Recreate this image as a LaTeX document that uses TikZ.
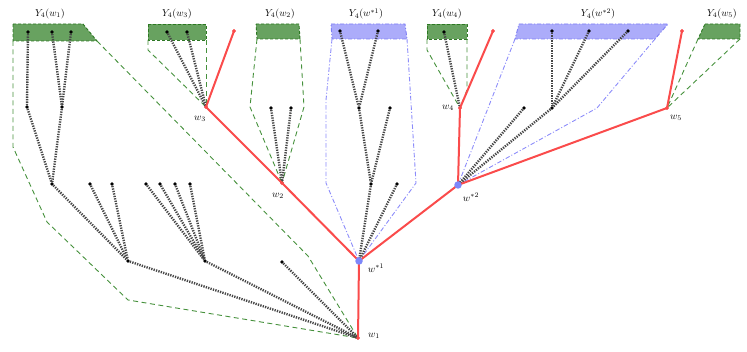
\documentclass[tikz,border=0pt]{standalone}
\definecolor{gfill}{RGB}{104,162,96}
\definecolor{gline}{RGB}{45,120,35}
\definecolor{ghullc}{RGB}{70,145,60}
\definecolor{bfill}{RGB}{172,172,250}
\definecolor{bline}{RGB}{125,125,245}
\definecolor{bhullc}{RGB}{140,140,250}
\definecolor{redc}{RGB}{250,75,75}
\definecolor{bdotc}{RGB}{125,135,250}
\tikzset{
 dot/.style={circle,fill=black,inner sep=0pt,minimum size=3.6pt},
 rdot/.style={circle,fill=redc,inner sep=0pt,minimum size=3.6pt},
 bdot/.style={circle,fill=bdotc,inner sep=0pt,minimum size=7.5pt},
 treeline/.style={line width=2.4pt,black!72,dash pattern=on 1.3pt off 1.2pt},
 redline/.style={line width=2pt,redc},
 ghull/.style={ghullc,line width=0.9pt,dash pattern=on 5pt off 3.5pt},
 bhull/.style={bhullc,line width=0.9pt,dash pattern=on 4.5pt off 2pt on 1pt off 2pt},
 gbox/.style={fill=gfill,draw=gline,line width=0.9pt,dash pattern=on 3pt off 2pt},
 bbox/.style={fill=bfill,draw=bline,line width=0.9pt,dash pattern=on 4pt off 2pt on 1pt off 2pt},
 lab/.style={inner sep=1pt,font=\normalsize},
}
\begin{document}
\begin{tikzpicture}[x=1pt,y=-1pt]
\useasboundingbox (0,0) rectangle (747,352);
% main nodes
\node[rdot] (w1) at (358,338) {};
\node[rdot] (w2) at (282,183) {};
\node[rdot] (w3) at (206,107) {};
\node[rdot] (w4) at (460,108) {};
\node[rdot] (w5) at (667,108) {};
\node[rdot] (e3) at (234,31) {};
\node[rdot] (e4) at (493,31) {};
\node[rdot] (e5) at (682,31) {};
\coordinate (ws1) at (359,261);
\coordinate (ws2) at (458,185);
% boxes
\draw[gbox] (13,24) -- (83,24) -- (97,41) -- (13,41) -- cycle;
\draw[gbox] (148,24) -- (206,24) -- (206,40) -- (148,40) -- cycle;
\draw[gbox] (256,24) -- (299,24) -- (300,39) -- (257,39) -- cycle;
\draw[bbox] (331,24) -- (405,24) -- (407,39) -- (332,39) -- cycle;
\draw[gbox] (427,24) -- (467,24) -- (467,39) -- (427,39) -- cycle;
\draw[bbox] (519,24) -- (668,24) -- (655,39) -- (515,39) -- cycle;
\draw[gbox] (705,24) -- (740,24) -- (740,39) -- (698,39) -- cycle;
% box labels
\node[lab] (L1) at (50,14) {$Y_4(w_1)$};
\node[lab] (L3) at (177,14) {$Y_4(w_3)$};
\node[lab] (L2) at (280,14) {$Y_4(w_2)$};
\node[lab] (Ls1) at (366,14) {$Y_4(w^{*1})$};
\node[lab] (L4) at (447,14) {$Y_4(w_4)$};
\node[lab] (Ls2) at (598,14) {$Y_4(w^{*2})$};
\node[lab] (L5) at (722,14) {$Y_4(w_5)$};
% hulls
\draw[ghull] (13,41) -- (13,147) -- (47,222) -- (128,300) -- (w1.center);
\draw[ghull] (97,41) -- (308,256) -- (w1.center);
\draw[ghull] (148,40) -- (148,50) -- (w3.center);
\draw[ghull] (206,40) -- (w3.center);
\draw[ghull] (257,39) -- (250,107) -- (w2.center);
\draw[ghull] (300,39) -- (304,107) -- (w2.center);
\draw[bhull] (332,39) -- (326,100) -- (326,183) -- (ws1);
\draw[bhull] (407,39) -- (416,183) -- (ws1);
\draw[ghull] (427,39) -- (427,50) -- (w4.center);
\draw[ghull] (467,39) -- (467,90) -- (w4.center);
\draw[bhull] (515,39) -- (ws2);
\draw[bhull] (655,39) -- (597,108) -- (ws2);
\draw[ghull] (698,39) -- (w5.center);
\draw[ghull] (740,39) -- (w5.center);
% tree dots
\node[dot] (a1) at (28,32) {};
\node[dot] (a2) at (52,32) {};
\node[dot] (a3) at (71,32) {};
\node[dot] (b1) at (27,107) {};
\node[dot] (b2) at (62,107) {};
\node[dot] (c1) at (52,184) {};
\node[dot] (c2) at (90,184) {};
\node[dot] (c3) at (112,184) {};
\node[dot] (c4) at (146,184) {};
\node[dot] (c5) at (160,184) {};
\node[dot] (c6) at (175,184) {};
\node[dot] (c7) at (190,184) {};
\node[dot] (d1) at (128,261) {};
\node[dot] (d2) at (205,261) {};
\node[dot] (d3) at (282,262) {};
\node[dot] (f1) at (167,32) {};
\node[dot] (f2) at (187,32) {};
\node[dot] (g1) at (271,108) {};
\node[dot] (g2) at (291,108) {};
\node[dot] (h1) at (340,31) {};
\node[dot] (h2) at (378,31) {};
\node[dot] (h3) at (359,108) {};
\node[dot] (h4) at (390,108) {};
\node[dot] (h5) at (371,184) {};
\node[dot] (h6) at (397,184) {};
\node[dot] (i1) at (444,32) {};
\node[dot] (j1) at (552,31) {};
\node[dot] (j2) at (589,31) {};
\node[dot] (j3) at (628,31) {};
\node[dot] (j4) at (552,108) {};
\node[dot] (j5) at (524,108) {};
% tree edges
\draw[treeline] (a1) -- (b1);
\draw[treeline] (a2) -- (b2);
\draw[treeline] (a3) -- (b2);
\draw[treeline] (b1) -- (c1);
\draw[treeline] (b2) -- (c1);
\draw[treeline] (c1) -- (d1);
\draw[treeline] (c2) -- (d1);
\draw[treeline] (c3) -- (d1);
\draw[treeline] (c4) -- (d2);
\draw[treeline] (c5) -- (d2);
\draw[treeline] (c6) -- (d2);
\draw[treeline] (c7) -- (d2);
\draw[treeline] (d1) -- (w1.center);
\draw[treeline] (d2) -- (w1.center);
\draw[treeline] (d3) -- (w1.center);
\draw[treeline] (f1) -- (w3.center);
\draw[treeline] (f2) -- (w3.center);
\draw[treeline] (g1) -- (w2.center);
\draw[treeline] (g2) -- (w2.center);
\draw[treeline] (h1) -- (h3);
\draw[treeline] (h2) -- (h3);
\draw[treeline] (h3) -- (h5);
\draw[treeline] (h4) -- (h5);
\draw[treeline] (h5) -- (ws1);
\draw[treeline] (h6) -- (ws1);
\draw[treeline] (i1) -- (w4.center);
\draw[treeline] (j1) -- (j4);
\draw[treeline] (j2) -- (j4);
\draw[treeline] (j3) -- (j4);
\draw[treeline] (j4) -- (ws2);
\draw[treeline] (j5) -- (ws2);
% red tree
\draw[redline] (w1.center) -- (ws1) -- (w2.center) -- (w3.center) -- (e3.center);
\draw[redline] (ws1) -- (ws2) -- (w4.center) -- (e4.center);
\draw[redline] (ws2) -- (w5.center) -- (e5.center);
\node[rdot] at (w1) {};
\node[rdot] at (w2) {};
\node[rdot] at (w3) {};
\node[rdot] at (w4) {};
\node[rdot] at (w5) {};
\node[rdot] at (e3) {};
\node[rdot] at (e4) {};
\node[rdot] at (e5) {};
\node[bdot] (bs1) at (ws1) {};
\node[bdot] (bs2) at (ws2) {};
% labels
\node[lab] (lw1) at (374,336) {$w_1$};
\node[lab] (lws1) at (376,268) {$w^{*1}$};
\node[lab] (lw2) at (278,196) {$w_2$};
\node[lab] (lw3) at (200,119) {$w_3$};
\node[lab] (lw4) at (448,108) {$w_4$};
\node[lab] (lws2) at (471,197) {$w^{*2}$};
\node[lab] (lw5) at (676,118) {$w_5$};
\end{tikzpicture}
\end{document}
